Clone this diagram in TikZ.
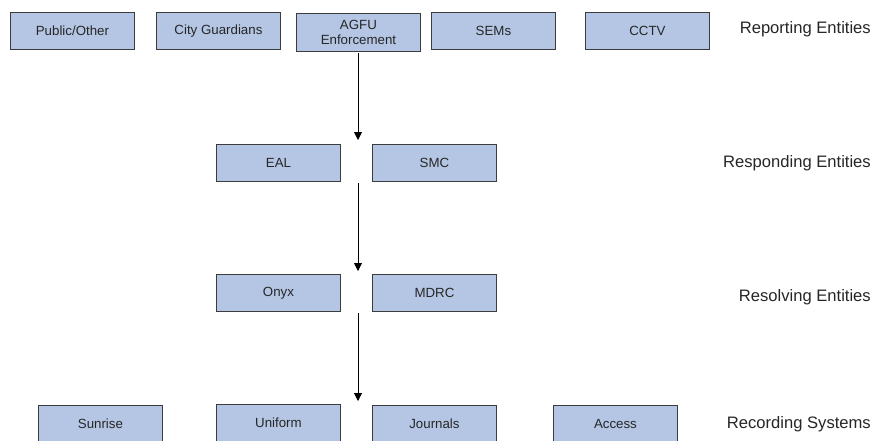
\documentclass[tikz,border=0pt]{standalone}
\usepackage{fontspec}
\setmainfont{Liberation Sans}
\usetikzlibrary{arrows.meta}
\definecolor{boxfill}{RGB}{180,198,228}
\definecolor{boxline}{RGB}{60,60,60}
\tikzset{
  ent/.style={draw=boxline, line width=0.9pt, fill=boxfill, minimum width=124pt, minimum height=37pt,
    inner sep=0pt, font=\fontsize{13.3}{15.5}\selectfont, align=center, anchor=north west, text=black!85},
  lvl/.style={anchor=east, inner sep=0pt, font=\fontsize{16.6}{17}\selectfont, text=black!85},
  flow/.style={line width=0.9pt, -{Triangle[width=8pt,length=8pt]}}
}
\begin{document}
\begin{tikzpicture}[x=1pt,y=-1pt]
\useasboundingbox (0,0) rectangle (875,440);
% row 1
\node[ent] (pub) at (10,12) {Public/Other};
\node[ent] (city) at (156,12) {City Guardians};
\node[ent, minimum height=38pt] (agfu) at (296,13) {AGFU\\Enforcement};
\node[ent] (sems) at (431,12) {SEMs};
\node[ent] (cctv) at (585,12) {CCTV};
\node[lvl] (l1) at (871,29) {Reporting Entities};
% row 2
\node[ent] (eal) at (216,144) {EAL};
\node[ent] (smc) at (372,144) {SMC};
\node[lvl] (l2) at (871,163) {Responding Entities};
% row 3
\node[ent] (onyx) at (216,274) {Onyx};
\node[ent] (mdrc) at (372,274) {MDRC};
\node[lvl] (l3) at (871,297) {Resolving Entities};
% row 4
\node[ent] (sunrise) at (38,405) {Sunrise};
\node[ent] (uniform) at (216,404) {Uniform};
\node[ent] (journals) at (372,405) {Journals};
\node[ent] (access) at (553,405) {Access};
\node[lvl] (l4) at (871,424) {Recording Systems};
% connectors
\coordinate (t1) at (358,140);
\coordinate (s2) at (358,183);
\coordinate (t2) at (358,271);
\coordinate (s3) at (358,313);
\coordinate (t3) at (358,401);
\draw[flow] ([yshift=-1.5pt]agfu.south -| t1) -- (t1);
\draw[flow] (s2) -- (t2);
\draw[flow] (s3) -- (t3);
\end{tikzpicture}
\end{document}
